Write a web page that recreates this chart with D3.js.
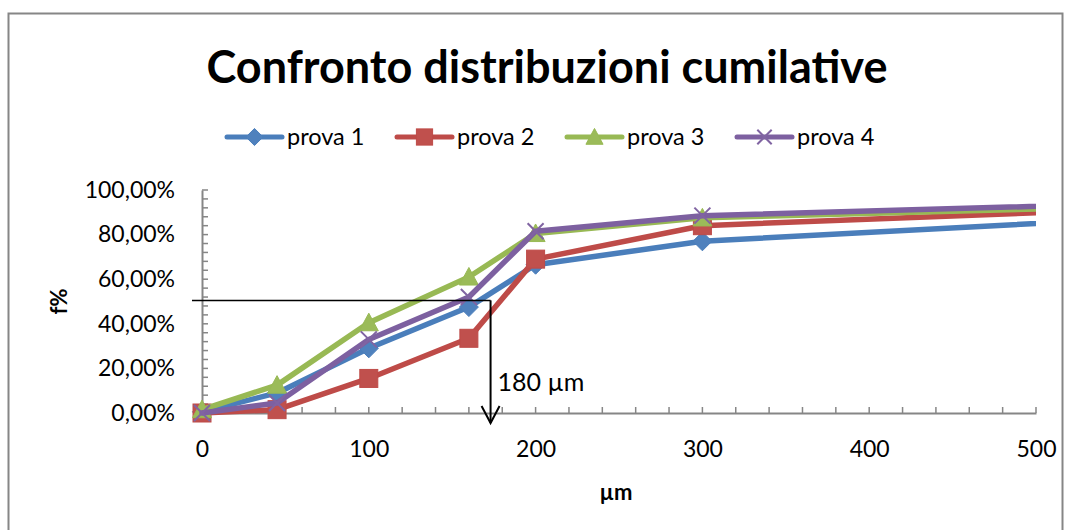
<!DOCTYPE html>
<html>
<head>
<meta charset="utf-8">
<script src="https://cdn.jsdelivr.net/npm/d3@7"></script>
<style>
  html, body { margin: 0; padding: 0; background: #fff; }
  svg { display: block; }
  text { font-family: Lato, "Liberation Sans", sans-serif; fill: #000; }
</style>
</head>
<body>
<svg id="chart" width="1071" height="530"></svg>
<script>
// ---- data ----
const title = "Confronto distribuzioni cumilative";
const xLabel = "µm";
const yLabel = "f%";
const seriesNames = ["prova 1", "prova 2", "prova 3", "prova 4"];
// last sieve lies beyond the axis maximum (500) and is clipped by the plot area
const sizes = [0, 45, 100, 160, 200, 300, 850];            // µm
const prova1 = [0.5, 9, 29, 47.5, 66.5, 77, 99];            // %
const prova2 = [0, 1.5, 15.5, 33.5, 69, 84, 100];
const prova3 = [1.5, 12.5, 40.5, 61, 80.5, 87.5, 98.5];
const prova4 = [0, 4.5, 33, 52, 81.5, 88.5, 100];
const xTickValues = [0, 100, 200, 300, 400, 500];
const yTickValues = [0, 0.2, 0.4, 0.6, 0.8, 1.0];
// annotation (drawn shape): 50% level to ~173 µm
const annotLevel = 0.505;
const annotX = 173;
const annotStartX = -6;
const annotEndY = -0.045;
const annotText = "180 µm";

// ---- styles ----
const lineColors = ["#4A7EBB", "#BE4B48", "#98B954", "#7D60A0"];
const markColors = ["#4F81BD", "#C0504D", "#9BBB59", "#8064A2"];
const markerTypes = ["diamond", "square", "triangle", "x"];
const axisColor = "#868686";

const svg = d3.select("#chart");

// outer chart border
svg.append("rect")
  .attr("x", 8.5).attr("y", 13.5)
  .attr("width", 1054).attr("height", 540)
  .attr("fill", "#fff").attr("stroke", axisColor).attr("stroke-width", 2);

const x = d3.scaleLinear().domain([0, 500]).range([202, 1036]);
const y = d3.scaleLinear().domain([0, 1]).range([413, 190]);

svg.append("clipPath").attr("id", "plotclip")
  .append("rect")
  .attr("x", x(0) - 20).attr("y", y(1) - 20)
  .attr("width", x(500) - x(0) + 20).attr("height", y(0) - y(1) + 40);

const locale = d3.formatLocale({decimal: ",", thousands: ".", grouping: [3], currency: ["", "€"]});
const fmtPct = locale.format(".2%");

// Title
svg.append("text")
  .attr("x", 547).attr("y", 83)
  .attr("text-anchor", "middle")
  .style("font-size", "45px").style("font-weight", "bold")
  .text(title);

// Y axis
const yAxis = d3.axisLeft(y).tickValues(yTickValues).tickFormat(fmtPct).tickSize(0).tickPadding(27);
const gy = svg.append("g").attr("transform", `translate(${x(0)},0)`).call(yAxis);
gy.select(".domain").attr("stroke", axisColor).attr("stroke-width", 2);
gy.selectAll("text").style("font-size", "23px").style("font-family", "Lato, sans-serif").attr("fill", "#000");

// y minor ticks (inside)
svg.append("g").selectAll("line")
  .data(d3.range(0, 1.0001, 0.04))
  .join("line")
  .attr("x1", x(0)).attr("x2", x(0) + 6)
  .attr("y1", d => y(d)).attr("y2", d => y(d))
  .attr("stroke", axisColor).attr("stroke-width", 1.5);

// X axis
const xAxis = d3.axisBottom(x).tickValues(xTickValues).tickFormat(d3.format("d")).tickSize(0).tickPadding(28);
const gx = svg.append("g").attr("transform", `translate(0,${y(0)})`).call(xAxis);
gx.select(".domain").attr("stroke", axisColor).attr("stroke-width", 2);
gx.selectAll("text").style("font-size", "23px").style("font-family", "Lato, sans-serif").attr("fill", "#000");

svg.append("g").selectAll("line")
  .data(d3.range(0, 500.001, 20))
  .join("line")
  .attr("x1", d => x(d)).attr("x2", d => x(d))
  .attr("y1", y(0)).attr("y2", y(0) - 6)
  .attr("stroke", axisColor).attr("stroke-width", 1.5);

// Axis titles
svg.append("text")
  .attr("transform", `translate(67,${(y(0)+y(1))/2}) rotate(-90)`)
  .attr("text-anchor", "middle")
  .style("font-size", "22px").style("font-weight", "bold")
  .text(yLabel);
svg.append("text")
  .attr("x", 616).attr("y", 500)
  .attr("text-anchor", "middle")
  .style("font-size", "22px").style("font-weight", "bold")
  .text(xLabel);

// marker drawing
function drawMarker(g, type, cx, cy, i, scale) {
  const s = scale || 1;
  if (type === "diamond") {
    const r = 9.5 * s;
    g.append("path").attr("d", `M${cx},${cy-r}L${cx+r},${cy}L${cx},${cy+r}L${cx-r},${cy}Z`)
      .attr("fill", markColors[i]).attr("stroke", lineColors[i]).attr("stroke-width", 1);
  } else if (type === "square") {
    const r = 9 * s;
    g.append("rect").attr("x", cx - r).attr("y", cy - r).attr("width", 2*r).attr("height", 2*r)
      .attr("fill", markColors[i]).attr("stroke", lineColors[i]).attr("stroke-width", 1);
  } else if (type === "triangle") {
    const r = 9.5 * s;
    g.append("path").attr("d", `M${cx},${cy-r}L${cx+r},${cy+r*0.85}L${cx-r},${cy+r*0.85}Z`)
      .attr("fill", markColors[i]).attr("stroke", lineColors[i]).attr("stroke-width", 1);
  } else if (type === "x") {
    const r = 8 * s;
    g.append("path").attr("d", `M${cx-r},${cy-r}L${cx+r},${cy+r}M${cx+r},${cy-r}L${cx-r},${cy+r}`)
      .attr("fill", "none").attr("stroke", markColors[i]).attr("stroke-width", 2);
  }
}

// Series (clipped to the plot area)
const allSeries = [prova1, prova2, prova3, prova4];
const line = d3.line().x(d => x(d[0])).y(d => y(d[1] / 100));
const plot = svg.append("g");
allSeries.forEach((vals, i) => {
  const pts = sizes.map((s, k) => [s, vals[k]]);
  const g = plot.append("g");
  g.append("path").datum(pts).attr("d", line)
    .attr("clip-path", "url(#plotclip)")
    .attr("fill", "none").attr("stroke", lineColors[i]).attr("stroke-width", 5.5)
    .attr("stroke-linejoin", "round").attr("stroke-linecap", "round");
  pts.filter(p => p[0] <= 500)
    .forEach(p => drawMarker(g, markerTypes[i], x(p[0]), y(p[1] / 100), i));
});

// Annotation
svg.append("line")
  .attr("x1", x(annotStartX)).attr("x2", x(annotX))
  .attr("y1", y(annotLevel)).attr("y2", y(annotLevel))
  .attr("stroke", "#000").attr("stroke-width", 1.5);
svg.append("line")
  .attr("x1", x(annotX)).attr("x2", x(annotX))
  .attr("y1", y(annotLevel)).attr("y2", y(annotEndY))
  .attr("stroke", "#000").attr("stroke-width", 2);
svg.append("path")
  .attr("d", `M${x(annotX)-9},${y(annotEndY)-17}L${x(annotX)},${y(annotEndY)}L${x(annotX)+9},${y(annotEndY)-17}`)
  .attr("fill", "none").attr("stroke", "#000").attr("stroke-width", 2);
svg.append("text")
  .attr("x", x(annotX) + 7).attr("y", 391)
  .style("font-size", "25px")
  .text(annotText);

// Legend
const legend = svg.append("g");
const legX0 = 227, legStep = 170, legY = 137;
seriesNames.forEach((name, i) => {
  const lx = legX0 + i * legStep;
  legend.append("line")
    .attr("x1", lx).attr("x2", lx + 55).attr("y1", legY).attr("y2", legY)
    .attr("stroke", lineColors[i]).attr("stroke-width", 5).attr("stroke-linecap", "round");
  drawMarker(legend, markerTypes[i], lx + 27.5, legY, i, 0.9);
  legend.append("text")
    .attr("x", lx + 60).attr("y", legY).attr("dy", "0.35em")
    .style("font-size", "23.5px")
    .text(name);
});
</script>
</body>
</html>
